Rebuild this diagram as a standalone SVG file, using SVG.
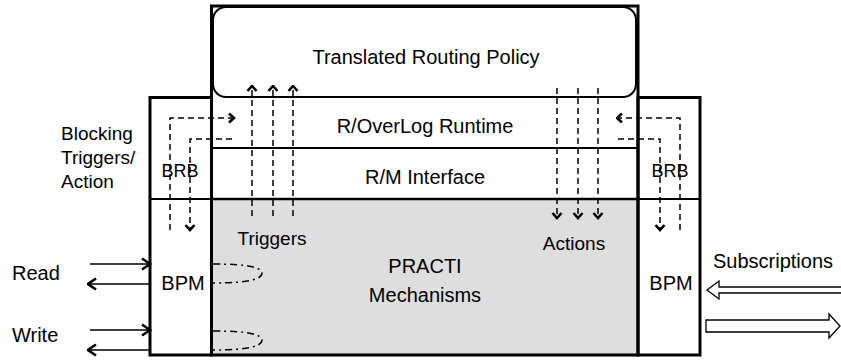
<svg xmlns="http://www.w3.org/2000/svg" width="841" height="360" viewBox="0 0 841 360">
<style>
text{font-family:"Liberation Sans",Arial,sans-serif;fill:#000}
.t{font-size:20px}
.a{font-size:19px}
.box{fill:none;stroke:#000;stroke-width:3}
.ln{stroke:#000;stroke-width:2;fill:none}
.dash{stroke:#000;stroke-width:1.5;fill:none;stroke-dasharray:6,4}
.dd{stroke:#000;stroke-width:1.5;fill:none;stroke-dasharray:7,4,2,4}
.sol{stroke:#000;stroke-width:1.5;fill:none}
.blk{fill:#fff;stroke:#000;stroke-width:1.3}
</style>
<defs>
<marker id="ch" viewBox="0 0 8 12" refX="6.5" refY="6" markerWidth="8" markerHeight="12" markerUnits="userSpaceOnUse" orient="auto">
<path d="M1.5,1.5 L6.5,6 L1.5,10.5" fill="none" stroke="#000" stroke-width="2.6"/>
</marker>
<marker id="chb" viewBox="0 0 11 14" refX="9.5" refY="7" markerWidth="11" markerHeight="14" markerUnits="userSpaceOnUse" orient="auto">
<path d="M1.5,1.5 L9.5,7 L1.5,12.5" fill="none" stroke="#000" stroke-width="2.6"/>
</marker>
</defs>

<g id="mechanisms">
<rect x="212" y="199" width="426" height="156" fill="#dedede"/>
<text class="t" x="425" y="273" text-anchor="middle">PRACTI</text>
<text class="t" x="425" y="302" text-anchor="middle">Mechanisms</text>
</g>

<g id="policy">
<rect x="213" y="7" width="423" height="90" rx="13" class="ln"/>
<text class="t" x="426" y="64" text-anchor="middle">Translated Routing Policy</text>
</g>

<g id="runtime">
<line x1="213" y1="148" x2="637" y2="148" class="ln"/>
<text class="t" x="425" y="133" text-anchor="middle">R/OverLog Runtime</text>
</g>

<g id="interface">
<line x1="211" y1="199" x2="638" y2="199" stroke="#000" stroke-width="2.5"/>
<text class="t" x="425" y="184" text-anchor="middle">R/M Interface</text>
</g>

<g id="core">
<rect x="211.5" y="6" width="426.5" height="349" class="box"/>
</g>

<g id="left-box">
<rect x="150" y="97.5" width="61.5" height="257.5" class="box"/>
<line x1="150" y1="199" x2="211" y2="199" class="ln"/>
<text style="font-size:18px" x="180" y="177" text-anchor="middle">BRB</text>
<text class="t" x="183" y="290" text-anchor="middle">BPM</text>
</g>

<g id="right-box">
<rect x="638" y="97.5" width="62" height="257.5" class="box"/>
<line x1="638" y1="199" x2="700" y2="199" class="ln"/>
<text style="font-size:18px" x="670" y="177" text-anchor="middle">BRB</text>
<text class="t" x="671" y="290" text-anchor="middle">BPM</text>
</g>

<g id="labels">
<text class="a" x="61" y="140">Blocking</text>
<text class="a" x="61" y="164">Triggers/</text>
<text class="a" x="61" y="188">Action</text>
<text class="a" x="272" y="245" text-anchor="middle">Triggers</text>
<text class="a" x="574" y="250" text-anchor="middle">Actions</text>
<text class="t" x="12" y="280">Read</text>
<text class="t" x="12" y="342">Write</text>
<text class="t" x="713" y="268">Subscriptions</text>
</g>

<g id="connectors">
<polyline points="170,230 170,118 234,118" class="dash" marker-end="url(#ch)"/>
<polyline points="232,139 190,139 190,230" class="dash" marker-end="url(#ch)"/>
<polyline points="680,230 680,118 617,118" class="dash" marker-end="url(#ch)"/>
<polyline points="618,139 660,139 660,230" class="dash" marker-end="url(#ch)"/>
<line x1="252" y1="216" x2="252" y2="86" class="dash" marker-end="url(#ch)"/>
<line x1="273" y1="216" x2="273" y2="86" class="dash" marker-end="url(#ch)"/>
<line x1="293" y1="216" x2="293" y2="86" class="dash" marker-end="url(#ch)"/>
<line x1="557" y1="88" x2="557" y2="218" class="dash" marker-end="url(#ch)"/>
<line x1="578" y1="88" x2="578" y2="218" class="dash" marker-end="url(#ch)"/>
<line x1="598" y1="88" x2="598" y2="218" class="dash" marker-end="url(#ch)"/>
<line x1="90" y1="264" x2="150" y2="264" class="sol" marker-end="url(#chb)"/>
<line x1="149" y1="284" x2="88" y2="284" class="sol" marker-end="url(#chb)"/>
<line x1="90" y1="330" x2="150" y2="330" class="sol" marker-end="url(#chb)"/>
<line x1="149" y1="350" x2="88" y2="350" class="sol" marker-end="url(#chb)"/>
<path d="M213,264 C250,264 262,268 262,273 C262,279 250,283 213,283" class="dd"/>
<path d="M213,331 C250,331 262,335 262,340 C262,346 250,350 213,350" class="dd"/>
<polygon points="707,290 719,281 719,287 843,287 843,293 719,293 719,299" class="blk"/>
<polygon points="706,320 829,320 829,314 840,326 829,338 829,332 706,332" class="blk"/>
</g>
</svg>
